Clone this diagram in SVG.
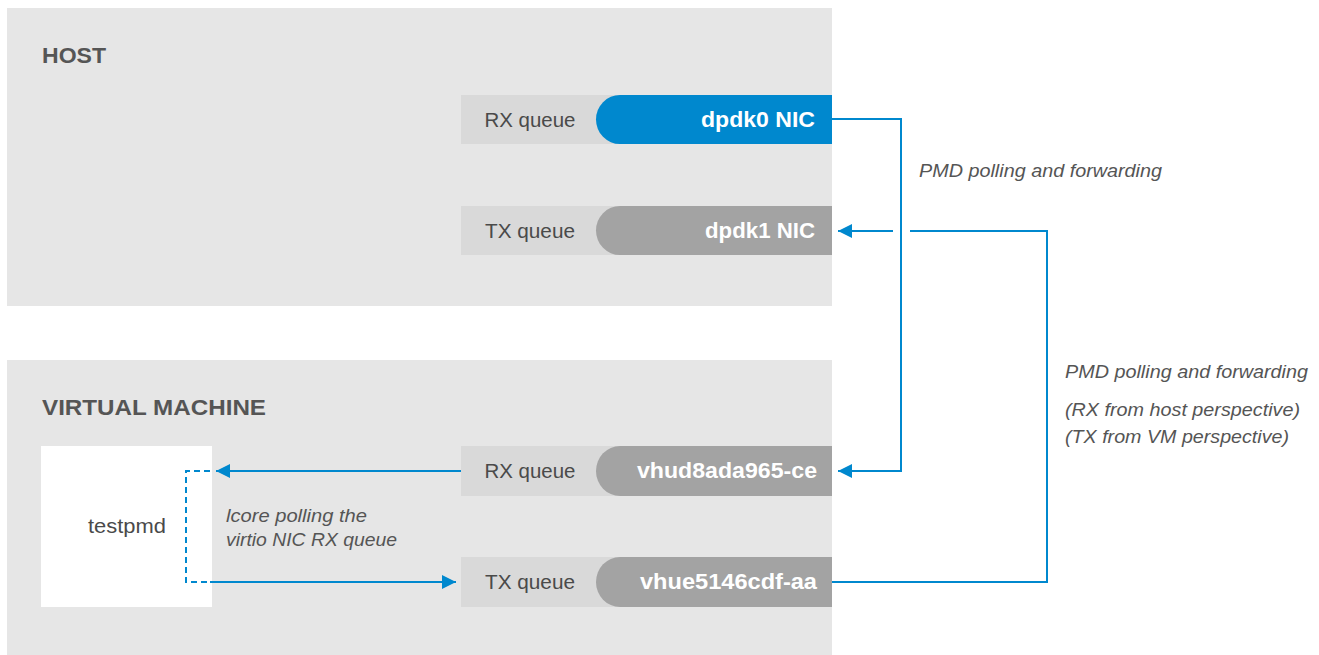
<svg xmlns="http://www.w3.org/2000/svg" width="1319" height="655" viewBox="0 0 1319 655">
<defs>
<style>
.panel{fill:#e6e6e6}
.qbg{fill:#d9d9d9}
.pill{fill:#a3a3a3}
.pill-blue{fill:#0088ce}
.title{font-family:"Liberation Sans",Arial,sans-serif;font-weight:bold;font-size:22px;fill:#555}
.q{font-family:"Liberation Sans",Arial,sans-serif;font-size:20px;fill:#4a4a4a;text-anchor:middle}
.nic{font-family:"Liberation Sans",Arial,sans-serif;font-weight:bold;font-size:22px;fill:#fff;text-anchor:end}
.lbl{font-family:"Liberation Sans",Arial,sans-serif;font-style:italic;font-size:19px;fill:#555}
.conn{fill:none;stroke:#0088ce;stroke-width:2}
.dash{fill:none;stroke:#0088ce;stroke-width:2;stroke-dasharray:6 4}
</style>
<marker id="ah" viewBox="0 0 14 14" refX="14" refY="7" markerWidth="14" markerHeight="14" markerUnits="userSpaceOnUse" orient="auto">
<path d="M0,0 L14,7 L0,14 Z" fill="#0088ce"/>
</marker>
</defs>

<g id="host">
<rect class="panel" x="7" y="8" width="825" height="298"/>
<text class="title" x="42" y="63" textLength="64" lengthAdjust="spacingAndGlyphs">HOST</text>
</g>
<g id="vm">
<rect class="panel" x="7" y="360" width="825" height="295"/>
<text class="title" x="42" y="415" textLength="224" lengthAdjust="spacingAndGlyphs">VIRTUAL MACHINE</text>
</g>

<g id="dpdk0">
<rect class="qbg" x="461" y="95" width="371" height="49"/>
<text class="q" x="530" y="127" textLength="91" lengthAdjust="spacingAndGlyphs">RX queue</text>
<path class="pill-blue" d="M832,95 H620 A24,24.5 0 0 0 620,144 H832 Z"/>
<text class="nic" x="815" y="127" textLength="114" lengthAdjust="spacingAndGlyphs">dpdk0 NIC</text>
</g>
<g id="dpdk1">
<rect class="qbg" x="461" y="206" width="371" height="49"/>
<text class="q" x="530" y="238" textLength="90" lengthAdjust="spacingAndGlyphs">TX queue</text>
<path class="pill" d="M832,206 H620 A24,24.5 0 0 0 620,255 H832 Z"/>
<text class="nic" x="815" y="238" textLength="110" lengthAdjust="spacingAndGlyphs">dpdk1 NIC</text>
</g>
<g id="vhud">
<rect class="qbg" x="461" y="446" width="371" height="50"/>
<text class="q" x="530" y="478" textLength="91" lengthAdjust="spacingAndGlyphs">RX queue</text>
<path class="pill" d="M832,446 H620 A24,25 0 0 0 620,496 H832 Z"/>
<text class="nic" x="817" y="478" textLength="180" lengthAdjust="spacingAndGlyphs">vhud8ada965-ce</text>
</g>
<g id="vhue">
<rect class="qbg" x="461" y="557" width="371" height="50"/>
<text class="q" x="530" y="589" textLength="90" lengthAdjust="spacingAndGlyphs">TX queue</text>
<path class="pill" d="M832,557 H620 A24,25 0 0 0 620,607 H832 Z"/>
<text class="nic" x="817" y="589" textLength="177" lengthAdjust="spacingAndGlyphs">vhue5146cdf-aa</text>
</g>
<g id="testpmd">
<rect x="41" y="446" width="171" height="161" fill="#fff"/>
<text class="q" x="127" y="533" textLength="78" lengthAdjust="spacingAndGlyphs">testpmd</text>
</g>

<g id="connectors">
<path class="conn" d="M832,119 H901 V471 H838" marker-end="url(#ah)"/>
<path class="conn" d="M832,582 H1047 V231 H910"/>
<path class="conn" d="M893,231 H838" marker-end="url(#ah)"/>
<path class="conn" d="M461,471 H216" marker-end="url(#ah)"/>
<path class="dash" d="M210,471 H186 V582 H210"/>
<path class="conn" d="M210,582 H456" marker-end="url(#ah)"/>
</g>

<g id="labels">
<text class="lbl" x="919" y="177" textLength="243" lengthAdjust="spacingAndGlyphs">PMD polling and forwarding</text>
<text class="lbl" x="1065" y="378" textLength="243" lengthAdjust="spacingAndGlyphs">PMD polling and forwarding</text>
<text class="lbl" x="1065" y="416" textLength="235" lengthAdjust="spacingAndGlyphs">(RX from host perspective)</text>
<text class="lbl" x="1065" y="443" textLength="224" lengthAdjust="spacingAndGlyphs">(TX from VM perspective)</text>
<text class="lbl" x="226" y="522" textLength="141" lengthAdjust="spacingAndGlyphs">lcore polling the</text>
<text class="lbl" x="226" y="546" textLength="171" lengthAdjust="spacingAndGlyphs">virtio NIC RX queue</text>
</g>
</svg>
